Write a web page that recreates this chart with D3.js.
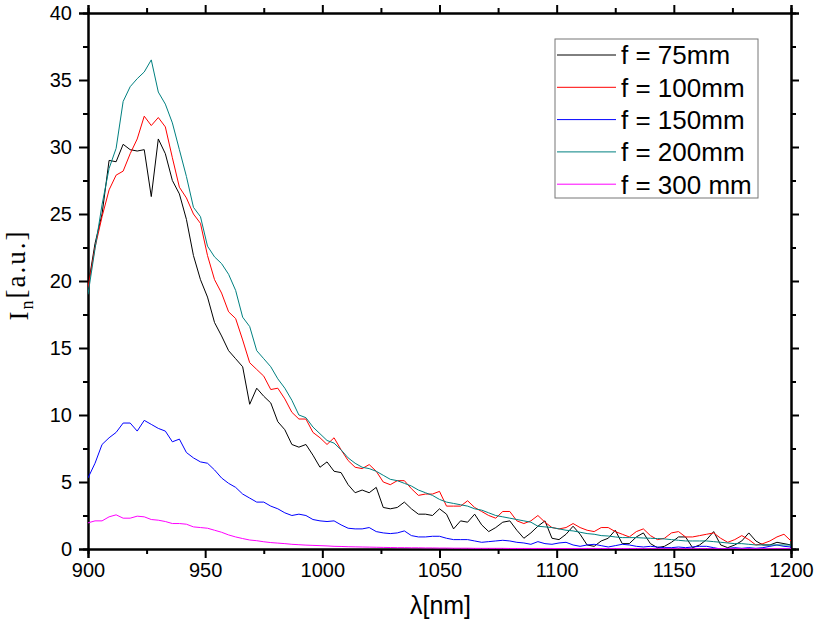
<!DOCTYPE html>
<meta charset="utf-8">
<style>
body { margin: 0; background: #fff; }
.axis text { font: 20px "Liberation Sans", Arial, sans-serif; fill: #000; }
.axis path, .axis line { fill: none; stroke: #000; stroke-width: 2; }
.curve { fill: none; stroke-width: 1; }
.legend text { font: 26px "Liberation Sans", Arial, sans-serif; }
</style>
<body>
<script src="https://cdn.jsdelivr.net/npm/d3@7"></script>
<script>
// wavelength grid (nm)
var wavelength = [900,903,906,909,912,915,918,921,924,927,930,933,936,939,942,945,948,951,954,957,
  960,963,966,969,972,975,978,981,984,987,990,993,996,999,1002,1005,1008,1011,1014,1017,
  1020,1023,1026,1029,1032,1035,1038,1041,1044,1047,1050,1053,1056,1059,1062,1065,1068,1071,1074,1077,
  1080,1083,1086,1089,1092,1095,1098,1101,1104,1107,1110,1113,1116,1119,1122,1125,1128,1131,1134,1137,
  1140,1143,1146,1149,1152,1155,1158,1161,1164,1167,1170,1173,1176,1179,1182,1185,1188,1191,1194,1197,1200];

var f75 = [19.6,22.8,25.0,29.0,28.9,30.2,29.8,29.7,29.8,26.3,30.6,29.5,27.5,26.5,24.6,21.9,20.1,18.8,16.9,15.9,
  14.8,14.2,13.6,10.8,12.0,11.4,10.9,9.5,8.9,7.8,7.6,7.8,7.0,6.1,6.5,5.8,5.7,4.8,4.2,4.4,
  4.2,4.6,3.1,3.0,3.1,3.5,3.0,2.6,2.6,2.5,3.0,2.6,1.5,2.1,2.0,2.6,1.8,1.3,1.6,2.0,
  2.1,1.4,0.8,1.2,1.7,2.1,0.8,0.7,1.1,1.7,1.1,0.3,0.2,0.6,0.8,1.4,0.4,0.4,0.9,1.2,
  0.4,0.1,0.2,0.5,0.9,0.9,0.1,0.3,0.7,1.3,0.3,0.1,0.3,0.6,1.2,0.6,0.3,0.3,0.5,0.4,0.3];

var f100 = [19.5,22.5,24.8,26.8,27.9,28.2,29.5,30.6,32.3,31.6,32.2,31.5,29.2,27.0,26.2,25.0,24.3,21.9,20.1,19.1,
  17.7,17.2,15.6,13.9,13.4,12.9,11.9,12.0,11.2,10.2,9.7,9.7,8.7,8.3,7.8,8.3,7.4,6.6,6.1,6.0,
  6.3,5.8,5.0,4.8,5.1,5.1,4.5,4.0,4.1,4.1,4.3,3.2,3.2,3.2,3.6,3.1,2.8,2.5,2.3,2.8,
  2.8,2.1,1.9,2.1,2.5,2.0,1.6,1.5,1.6,1.9,1.6,1.4,1.3,1.6,1.6,1.3,1.1,0.9,1.3,1.5,
  1.0,0.7,0.8,1.2,1.3,0.9,0.9,1.0,1.1,1.2,0.8,0.5,0.7,1.0,0.7,0.3,0.4,0.6,0.9,1.1,0.6];

var f150 = [5.3,6.4,7.8,8.3,8.7,9.4,9.4,8.8,9.6,9.3,9.0,8.8,8.0,8.2,7.2,6.8,6.5,6.4,5.9,5.3,
  4.9,4.6,4.1,3.8,3.5,3.5,3.2,3.0,2.7,2.5,2.6,2.5,2.2,2.1,2.05,2.1,1.8,1.55,1.5,1.5,
  1.6,1.3,1.2,1.15,1.2,1.35,1.0,0.9,0.9,0.95,0.95,0.8,0.7,0.7,0.7,0.6,0.5,0.55,0.6,0.65,
  0.6,0.5,0.45,0.35,0.55,0.4,0.35,0.45,0.5,0.3,0.2,0.3,0.35,0.25,0.15,0.25,0.35,0.3,0.2,0.15,
  0.2,0.15,0.1,0.1,0.15,0.1,0.15,0.2,0.2,0.1,0.0,0.05,0.1,0.05,0.1,0.05,0.1,0.2,0.3,0.2,0.15];

var f200 = [19.0,22.4,25.7,28.4,29.9,33.4,34.5,35.1,35.6,36.5,34.1,33.2,31.8,29.8,27.8,25.5,24.8,22.6,21.8,21.3,
  20.5,19.3,17.3,16.6,14.8,14.2,13.6,12.7,12.0,11.1,10.0,9.8,9.1,8.6,8.1,7.9,7.4,6.8,6.4,6.1,
  6.0,5.8,5.5,5.2,5.1,4.9,4.7,4.4,4.2,4.0,3.7,3.5,3.4,3.3,3.2,3.0,2.9,2.7,2.5,2.4,
  2.3,2.2,2.1,2.0,1.7,1.65,1.6,1.5,1.4,1.35,1.25,1.15,1.1,1.0,0.97,0.9,0.85,0.85,0.85,0.82,
  0.8,0.78,0.75,0.7,0.65,0.6,0.6,0.6,0.6,0.55,0.5,0.45,0.4,0.4,0.35,0.3,0.3,0.3,0.3,0.3,0.3];

var f300 = [1.95,2.1,2.1,2.4,2.55,2.3,2.3,2.45,2.4,2.2,2.15,2.05,1.9,1.9,1.85,1.65,1.6,1.55,1.4,1.25,
  1.05,0.9,0.78,0.67,0.62,0.54,0.48,0.44,0.4,0.35,0.32,0.29,0.27,0.25,0.23,0.2,0.19,0.17,0.16,0.15,
  0.14,0.13,0.12,0.11,0.1,0.1,0.09,0.09,0.08,0.08,0.07,0.07,0.06,0.06,0.06,0.05,0.05,0.05,0.05,0.05,
  0.04,0.04,0.04,0.04,0.04,0.04,0.04,0.03,0.03,0.03,0.03,0.03,0.03,0.03,0.03,0.03,0.03,0.03,0.03,0.02,
  0.02,0.02,0.02,0.02,0.02,0.02,0.02,0.02,0.02,0.02,0.02,0.02,0.02,0.02,0.02,0.02,0.02,0.02,0.02,0.02,0.02];

var seriesNames = ["f = 75mm", "f = 100mm", "f = 150mm", "f = 200mm", "f = 300 mm"];
var seriesColors = ["#000000", "#ff0000", "#0000ff", "#008080", "#ff00ff"];
var seriesValues = [f75, f100, f150, f200, f300];

var xMajor = [900, 950, 1000, 1050, 1100, 1150, 1200];
var yMajor = [0, 5, 10, 15, 20, 25, 30, 35, 40];

var margin = {top: 13, right: 24, bottom: 77, left: 88},
    width = 815 - margin.left - margin.right,
    height = 626 - margin.top - margin.bottom;

var svg = d3.select("body").append("svg")
    .attr("width", 815)
    .attr("height", 626)
  .append("g")
    .attr("transform", "translate(" + margin.left + "," + margin.top + ")");

var x = d3.scaleLinear().domain([900, 1200]).range([0, width]);
var y = d3.scaleLinear().domain([0, 40]).range([height, 0]);

var xMinor = xMajor.slice(0, -1).map(function(d) { return d + 25; });
var yMinor = yMajor.slice(0, -1).map(function(d) { return d + 2.5; });

// minor ticks first
svg.append("g").attr("class", "axis").attr("transform", "translate(0," + height + ")")
  .call(d3.axisBottom(x).tickValues(xMinor).tickSize(5).tickFormat(""));
svg.append("g").attr("class", "axis")
  .call(d3.axisTop(x).tickValues(xMinor).tickSize(5).tickFormat(""));
svg.append("g").attr("class", "axis")
  .call(d3.axisLeft(y).tickValues(yMinor).tickSize(5).tickFormat(""));
svg.append("g").attr("class", "axis").attr("transform", "translate(" + width + ",0)")
  .call(d3.axisRight(y).tickValues(yMinor).tickSize(5).tickFormat(""));

// major ticks
svg.append("g").attr("class", "axis").attr("transform", "translate(0," + height + ")")
  .call(d3.axisBottom(x).tickValues(xMajor).tickSize(9).tickPadding(5).tickFormat(d3.format("d")));
svg.append("g").attr("class", "axis")
  .call(d3.axisTop(x).tickValues(xMajor).tickSize(8).tickFormat(""));
svg.append("g").attr("class", "axis")
  .call(d3.axisLeft(y).tickValues(yMajor).tickSize(9).tickPadding(7).tickFormat(d3.format("d")));
svg.append("g").attr("class", "axis").attr("transform", "translate(" + width + ",0)")
  .call(d3.axisRight(y).tickValues(yMajor).tickSize(8).tickFormat(""));

svg.append("clipPath").attr("id", "clip")
  .append("rect").attr("width", width).attr("height", height);

var line = d3.line()
    .x(function(d, i) { return x(wavelength[i]); })
    .y(function(d) { return y(d); });

svg.append("g").attr("clip-path", "url(#clip)")
  .selectAll("path")
  .data(seriesValues)
  .enter().append("path")
    .attr("class", "curve")
    .attr("stroke", function(d, i) { return seriesColors[i]; })
    .attr("d", line);

// legend
var legend = svg.append("g").attr("class", "legend").attr("transform", "translate(467,26)");
legend.append("rect")
    .attr("width", 203).attr("height", 159)
    .attr("fill", "#fff").attr("stroke", "#777").attr("stroke-width", 1);
var item = legend.selectAll(".item")
  .data(seriesNames)
  .enter().append("g")
    .attr("class", "item")
    .attr("transform", function(d, i) { return "translate(0," + (16 + i * 32.3) + ")"; });
item.append("line")
    .attr("x1", 2).attr("x2", 61)
    .attr("stroke", function(d, i) { return seriesColors[i]; })
    .attr("stroke-width", 1);
item.append("text")
    .attr("x", 66).attr("dy", "0.36em")
    .text(function(d) { return d; });

// axis titles
svg.append("text")
    .attr("x", width / 2 + 1).attr("y", height + 65)
    .attr("text-anchor", "middle")
    .style("font", "25px 'Liberation Sans', Arial, sans-serif")
    .text("λ[nm]");

var ylab = svg.append("text")
    .attr("transform", "translate(-60," + (height / 2 - 6) + ") rotate(-90)")
    .attr("text-anchor", "middle")
    .style("font", "27px 'Liberation Serif', 'Times New Roman', serif")
    .style("letter-spacing", "2px");
ylab.append("tspan").text("I");
ylab.append("tspan").attr("dy", "0.3em").style("font-size", "18px").text("n");
ylab.append("tspan").attr("dy", "-0.3em").text("[a.u.]");
</script>
</body>
